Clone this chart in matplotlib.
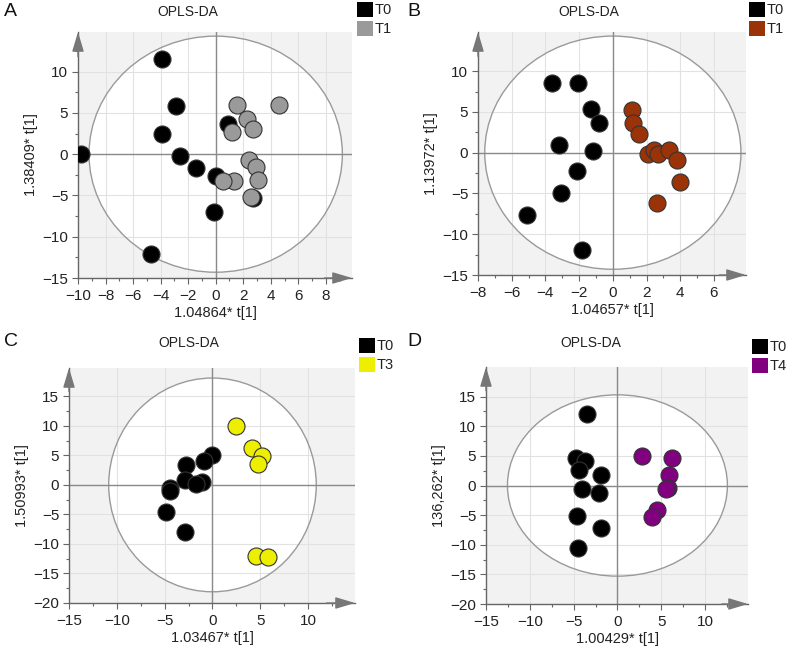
import numpy as np
import matplotlib.pyplot as plt
from matplotlib.patches import Ellipse, Rectangle

plt.rcParams['font.family'] = ['Liberation Sans', 'DejaVu Sans']

# panel A: T0 vs T1
a_t0_x = [-3.9, -2.9, -3.9, -9.8, -2.6, -1.4, 0.05, -0.15, -4.7, 0.9, 2.7]
a_t0_y = [11.5, 5.8, 2.4, 0.0, -0.2, -1.7, -2.6, -7.0, -12.1, 3.6, -5.3]
a_t1_x = [1.55, 4.6, 2.3, 2.7, 1.2, 2.4, 2.95, 3.1, 1.3, 0.55, 2.6]
a_t1_y = [6.0, 5.9, 4.3, 3.0, 2.65, -0.65, -1.55, -3.1, -3.25, -3.25, -5.15]

# panel B: T0 vs T1
b_t0_x = [-3.6, -2.05, -1.3, -0.85, -3.2, -1.15, -2.15, -3.1, -5.1, -1.85]
b_t0_y = [8.6, 8.5, 5.4, 3.7, 0.9, 0.15, -2.2, -4.9, -7.7, -11.9]
b_t1_x = [1.15, 1.2, 1.55, 2.1, 2.45, 2.7, 3.35, 3.8, 4.0, 2.6]
b_t1_y = [5.2, 3.7, 2.3, -0.15, 0.3, -0.15, 0.3, -0.9, -3.55, -6.2]

# panel C: T0 vs T3
c_t0_x = [-0.05, -0.85, -2.8, -2.85, -1.05, -1.7, -4.4, -4.45, -4.9, -2.85]
c_t0_y = [5.1, 4.0, 3.3, 0.8, 0.5, 0.15, -0.45, -1.0, -4.6, -7.9]
c_t3_x = [2.5, 4.1, 5.2, 4.8, 4.5, 5.8]
c_t3_y = [9.9, 6.2, 4.9, 3.5, -12.1, -12.2]

# panel D: T0 vs T4
d_t0_x = [-3.5, -4.7, -3.7, -4.35, -1.9, -4.1, -2.05, -4.65, -1.9, -4.45]
d_t0_y = [12.1, 4.65, 4.2, 2.7, 1.8, -0.55, -1.2, -5.2, -7.2, -10.55]
d_t4_x = [2.75, 6.2, 5.85, 5.75, 5.55, 4.5, 4.0]
d_t4_y = [5.0, 4.6, 1.7, -0.5, -0.6, -4.1, -5.3]

# Hotelling T2 ellipse radii
ell_a = [9.2, 14.3]
ell_b = [7.6, 14.3]
ell_c = [10.85, 18.1]
ell_d = [12.55, 15.3]

W, H = 788, 650
fig = plt.figure(figsize=(W / 100, H / 100), dpi=100)


def px_axes(left, top, right, bottom):
    return fig.add_axes([left / W, 1 - bottom / H, (right - left) / W, (bottom - top) / H])


def panel(box, xlim, ylim, xmaj, ymaj, ell, x0, y0, x1, y1, c1, xlabel, ylabel):
    ax = px_axes(*box)
    ax.set_facecolor('#f2f2f2')
    ax.set_xticks(xmaj)
    ax.set_yticks(ymaj)
    dx = xmaj[1] - xmaj[0]
    dy = ymaj[1] - ymaj[0]
    ax.set_xticks(np.arange(xmaj[0] + dx / 2, xlim[1], dx), minor=True)
    ax.set_yticks(np.arange(ymaj[0] + dy / 2, ylim[1], dy), minor=True)
    ax.set_xlim(*xlim)
    ax.set_ylim(*ylim)
    ax.set_axisbelow(True)
    ax.grid(True, which='major', color='#e2e2e2', lw=0.8)
    ax.add_patch(Ellipse((0, 0), 2 * ell[0], 2 * ell[1], facecolor='white',
                         edgecolor='none', zorder=0.2))
    ax.add_patch(Ellipse((0, 0), 2 * ell[0], 2 * ell[1], facecolor='none',
                         edgecolor='#9a9a9a', lw=1.0, zorder=1))
    ax.axhline(0, color='#8a8a8a', lw=1.0, zorder=1.2)
    ax.axvline(0, color='#8a8a8a', lw=1.0, zorder=1.2)
    ax.scatter(x0, y0, s=150, c='black', edgecolors='#333333', linewidths=0.8, zorder=3)
    ax.scatter(x1, y1, s=150, c=c1, edgecolors='#333333', linewidths=0.8, zorder=3)
    for s in ['top', 'right']:
        ax.spines[s].set_visible(False)
    for s in ['left', 'bottom']:
        ax.spines[s].set_color('#666666')
        ax.spines[s].set_linewidth(1.0)
    ax.tick_params(which='major', length=4, width=0.8, color='#666666',
                   labelsize=11, labelcolor='#222222', pad=3)
    ax.tick_params(axis='x', which='major', pad=4)
    ax.tick_params(which='minor', length=2.5, width=0.8, color='#666666')
    ax.set_xlabel(xlabel, fontsize=10.5, color='#222222', labelpad=2)
    ax.set_ylabel(ylabel, fontsize=10.5, color='#222222', labelpad=3)
    ap = dict(arrowstyle='-|>,head_length=1.0,head_width=0.3', color='#777777',
              lw=1.0, shrinkA=0, shrinkB=0, mutation_scale=12)
    ax.annotate('', xy=(0, 1.0), xytext=(0, 0.9), xycoords='axes fraction',
                arrowprops=ap, annotation_clip=False)
    ax.annotate('', xy=(1.0, 0), xytext=(0.9, 0), xycoords='axes fraction',
                arrowprops=ap, annotation_clip=False)
    return ax


panel((78, 32, 352, 278), (-10, 9.9), (-15, 14.8), np.arange(-10, 9, 2), np.arange(-15, 11, 5),
      ell_a, a_t0_x, a_t0_y, a_t1_x, a_t1_y, '#9a9a9a', '1.04864* t[1]', '1.38409* t[1]')
panel((478, 32, 746, 275), (-8, 7.9), (-15, 14.8), np.arange(-8, 7, 2), np.arange(-15, 11, 5),
      ell_b, b_t0_x, b_t0_y, b_t1_x, b_t1_y, '#9b3309', '1.04657* t[1]', '1.13972* t[1]')
panel((69, 368, 355, 603), (-15, 14.9), (-20, 19.8), np.arange(-15, 11, 5), np.arange(-20, 16, 5),
      ell_c, c_t0_x, c_t0_y, c_t3_x, c_t3_y, '#eeee00', '1.03467* t[1]', '1.50993* t[1]')
panel((486, 367, 748, 604), (-15, 14.9), (-20, 20), np.arange(-15, 11, 5), np.arange(-20, 16, 5),
      ell_d, d_t0_x, d_t0_y, d_t4_x, d_t4_y, '#800080', '1.00429* t[1]', '136,262* t[1]')

# titles, panel letters, legends
for x, y in [(188, 12), (589, 12), (189, 343), (591, 343)]:
    fig.text(x / W, 1 - y / H, 'OPLS-DA', fontsize=10, ha='center', va='center', color='#222222')
for t, x, y in [('A', 4, 12), ('B', 407, 12), ('C', 4, 341), ('D', 407, 341)]:
    fig.text(x / W, 1 - y / H, t, fontsize=14, ha='left', va='center', color='#111111')

legends = [(357, 2, 'T1', '#9a9a9a'), (749, 2, 'T1', '#9b3309'),
           (359, 338, 'T3', '#eeee00'), (752, 339, 'T4', '#800080')]
for x, y, lab, col in legends:
    for i, (l, c) in enumerate([('T0', 'black'), (lab, col)]):
        yy = y + i * 19
        fig.patches.append(Rectangle((x / W, 1 - (yy + 15) / H), 16 / W, 15 / H,
                                     transform=fig.transFigure, facecolor=c,
                                     edgecolor='none'))
        fig.text((x + 18) / W, 1 - (yy + 8) / H, l, fontsize=10.5, ha='left',
                 va='center', color='#222222')

plt.savefig('out.png', dpi=100)
